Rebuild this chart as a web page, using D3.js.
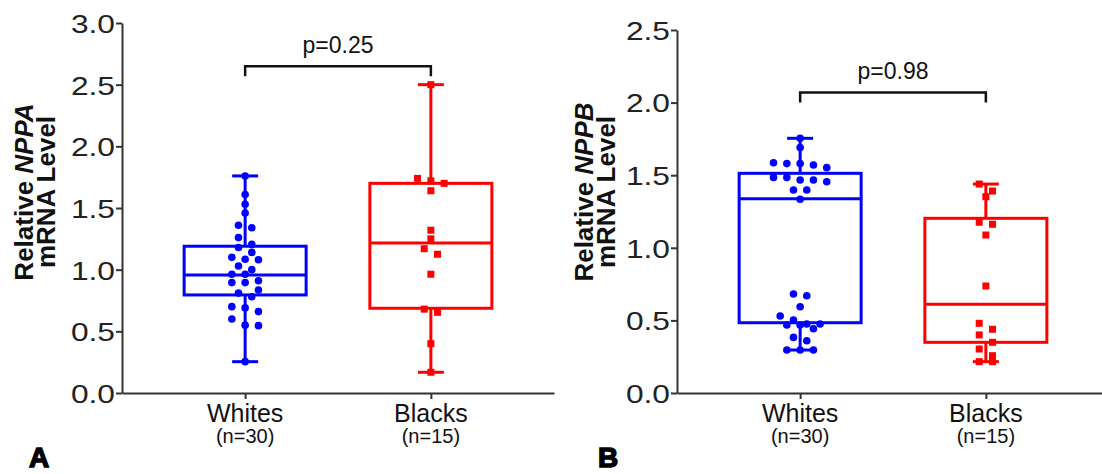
<!DOCTYPE html>
<html>
<head>
<meta charset="utf-8">
<script src="https://cdn.jsdelivr.net/npm/d3@7"></script>
<style>
  body { margin: 0; background: #fff; }
  svg { display: block; font-family: "Liberation Sans", Arial, sans-serif; }
</style>
</head>
<body>
<svg id="chart" width="1102" height="474"></svg>
<script>
// groups and sample sizes
const groups = ["Whites", "Blacks"];
const groupN = ["(n=30)", "(n=15)"];
const groupColors = ["#0000ff", "#ff0000"];

// panel A: NPPA
const nppaWhites = [1.76, 1.61, 1.53, 1.46, 1.36, 1.34, 1.26, 1.205, 1.18, 1.14, 1.10, 1.085, 1.08, 1.03, 1.00,
  0.963, 0.963, 0.91, 0.895, 0.895, 0.835, 0.81, 0.78, 0.70, 0.69, 0.66, 0.60, 0.55, 0.546, 0.254];
const nppaBlacks = [2.50, 1.74, 1.72, 1.70, 1.64, 1.32, 1.25, 1.17, 1.125, 0.963, 0.68, 0.654, 0.40, 0.168];
// [min, q1, median, q3, max]
const nppaBoxWhites = [0.254, 0.795, 0.957, 1.19, 1.76];
const nppaBoxBlacks = [0.168, 0.687, 1.216, 1.70, 2.50];
const nppaTicks = [0, 0.5, 1.0, 1.5, 2.0, 2.5, 3.0];
const nppaP = "p=0.25";

// panel B: NPPB
const nppbWhites = [1.754, 1.69, 1.586, 1.58, 1.58, 1.57, 1.552, 1.485, 1.485, 1.467, 1.467, 1.455, 1.398, 1.398, 1.334,
  0.682, 0.670, 0.594, 0.530, 0.502, 0.475, 0.475, 0.468, 0.468, 0.443, 0.383, 0.36, 0.296, 0.296, 0.296];
const nppbBlacks = [1.439, 1.391, 1.352, 1.176, 1.162, 1.088, 0.737, 0.48, 0.439, 0.40, 0.349, 0.303, 0.257, 0.216, 0.216];
const nppbBoxWhites = [0.296, 0.484, 1.338, 1.513, 1.754];
const nppbBoxBlacks = [0.216, 0.349, 0.611, 1.203, 1.439];
const nppbTicks = [0, 0.5, 1.0, 1.5, 2.0, 2.5];
const nppbP = "p=0.98";

const svg = d3.select("#chart");
const axisColor = "#333";

// simple graphpad-like scatter: values close together share a row
function swarm(values, y, binPx, gap) {
  const sorted = values.slice().sort((a, b) => b - a);
  const rows = [];
  sorted.forEach(v => {
    const last = rows[rows.length - 1];
    if (last && y(v) - y(last[0]) <= binPx) last.push(v);
    else rows.push([v]);
  });
  const out = [];
  rows.forEach(r => {
    r.forEach((v, i) => out.push({ v, dx: (i - (r.length - 1) / 2) * gap }));
  });
  return out;
}

function drawPanel(opt) {
  const g = svg.append("g");

  const y = d3.scaleLinear().domain([0, opt.yMax]).range([393, opt.yTop]);
  const x = d3.scalePoint().domain(groups).range([opt.x0, opt.x0 + 432]).padding(0.663);
  const boxHalf = 61;
  const capHalf = 13;

  // y axis (tick labels come out a bit wide in the original)
  const stretch = 1.22;
  const yAxis = g.append("g")
    .attr("transform", `translate(${opt.x0},0)`)
    .call(d3.axisLeft(y).tickValues(opt.ticks).tickFormat(d3.format(".1f")).tickSize(6).tickSizeOuter(0));
  yAxis.select(".domain").attr("stroke", axisColor).attr("stroke-width", 2);
  yAxis.selectAll(".tick line").attr("stroke", axisColor).attr("stroke-width", 2);
  yAxis.selectAll(".tick text")
    .attr("font-size", 26)
    .attr("fill", "#222")
    .attr("x", -7 / stretch)
    .attr("dy", "0.36em")
    .attr("transform", `scale(${stretch},1)`)
    .style("font-family", "Liberation Sans, Arial, sans-serif");

  // x axis
  const xAxis = g.append("g")
    .attr("transform", `translate(0,393)`)
    .call(d3.axisBottom(x).tickSize(6).tickSizeOuter(0));
  xAxis.select(".domain").attr("stroke", axisColor).attr("stroke-width", 2);
  xAxis.selectAll(".tick line").attr("stroke", axisColor).attr("stroke-width", 2);
  xAxis.selectAll(".tick text").remove();
  groups.forEach((name, i) => {
    g.append("text")
      .attr("x", x(name)).attr("y", 422)
      .attr("text-anchor", "middle")
      .attr("font-size", 25).attr("fill", "#111")
      .text(name);
    g.append("text")
      .attr("x", x(name)).attr("y", 443)
      .attr("text-anchor", "middle")
      .attr("font-size", 20).attr("fill", "#111")
      .text(groupN[i]);
  });

  // y label, two lines
  const lab = g.append("text")
    .attr("transform", `translate(${opt.labelX},192) rotate(-90)`)
    .attr("text-anchor", "middle")
    .attr("font-size", 26).attr("font-weight", "bold").attr("fill", "#111");
  lab.append("tspan").attr("x", 0).attr("y", 0).text("Relative ");
  lab.append("tspan").attr("font-style", "italic").text(opt.gene);
  lab.append("tspan").attr("x", 0).attr("y", 22).text("mRNA Level");

  // boxes
  opt.boxes.forEach((b, i) => {
    const cx = x(groups[i]);
    const col = groupColors[i];
    const bg = g.append("g").attr("stroke", col).attr("stroke-width", 3).attr("fill", "none");
    bg.append("line").attr("x1", cx).attr("x2", cx).attr("y1", y(b[0])).attr("y2", y(b[1]));
    bg.append("line").attr("x1", cx).attr("x2", cx).attr("y1", y(b[3])).attr("y2", y(b[4]));
    bg.append("line").attr("x1", cx - capHalf).attr("x2", cx + capHalf).attr("y1", y(b[0])).attr("y2", y(b[0]));
    bg.append("line").attr("x1", cx - capHalf).attr("x2", cx + capHalf).attr("y1", y(b[4])).attr("y2", y(b[4]));
    bg.append("rect")
      .attr("x", cx - boxHalf).attr("width", boxHalf * 2)
      .attr("y", y(b[3])).attr("height", y(b[1]) - y(b[3]));
    bg.append("line").attr("x1", cx - boxHalf).attr("x2", cx + boxHalf).attr("y1", y(b[2])).attr("y2", y(b[2]));
  });

  // points
  opt.points.forEach((vals, i) => {
    const cx = x(groups[i]);
    const pts = swarm(vals, y, 8, 13.3);
    if (i === 0) {
      g.selectAll(null).data(pts).join("circle")
        .attr("cx", d => cx + d.dx).attr("cy", d => y(d.v))
        .attr("r", 3.8).attr("fill", groupColors[i]);
    } else {
      g.selectAll(null).data(pts).join("rect")
        .attr("x", d => cx + d.dx - 3.5).attr("y", d => y(d.v) - 3.5)
        .attr("width", 7).attr("height", 7).attr("fill", groupColors[i]);
    }
  });

  // significance bracket
  const bx1 = x(groups[0]), bx2 = x(groups[1]);
  const by = y(opt.bracket);
  g.append("path")
    .attr("d", `M${bx1},${by + 10}V${by}H${bx2}V${by + 10}`)
    .attr("fill", "none").attr("stroke", "#111").attr("stroke-width", 2.5);
  g.append("text")
    .attr("x", (bx1 + bx2) / 2).attr("y", by - 13)
    .attr("text-anchor", "middle")
    .attr("font-size", 23).attr("fill", "#111")
    .text(opt.p);

  // panel letter
  g.append("text")
    .attr("x", opt.letterX).attr("y", 467)
    .attr("font-size", 28).attr("font-weight", 900)
    .attr("fill", "#000").attr("stroke", "#000").attr("stroke-width", 1.4)
    .text(opt.letter);
}

drawPanel({
  x0: 122, yMax: 3, yTop: 23, ticks: nppaTicks, gene: "NPPA", labelX: 33,
  boxes: [nppaBoxWhites, nppaBoxBlacks], points: [nppaWhites, nppaBlacks],
  bracket: 2.65, p: nppaP, letter: "A", letterX: 29
});

drawPanel({
  x0: 677, yMax: 2.5, yTop: 30, ticks: nppbTicks, gene: "NPPB", labelX: 593,
  boxes: [nppbBoxWhites, nppbBoxBlacks], points: [nppbWhites, nppbBlacks],
  bracket: 2.07, p: nppbP, letter: "B", letterX: 598
});
</script>
</body>
</html>
